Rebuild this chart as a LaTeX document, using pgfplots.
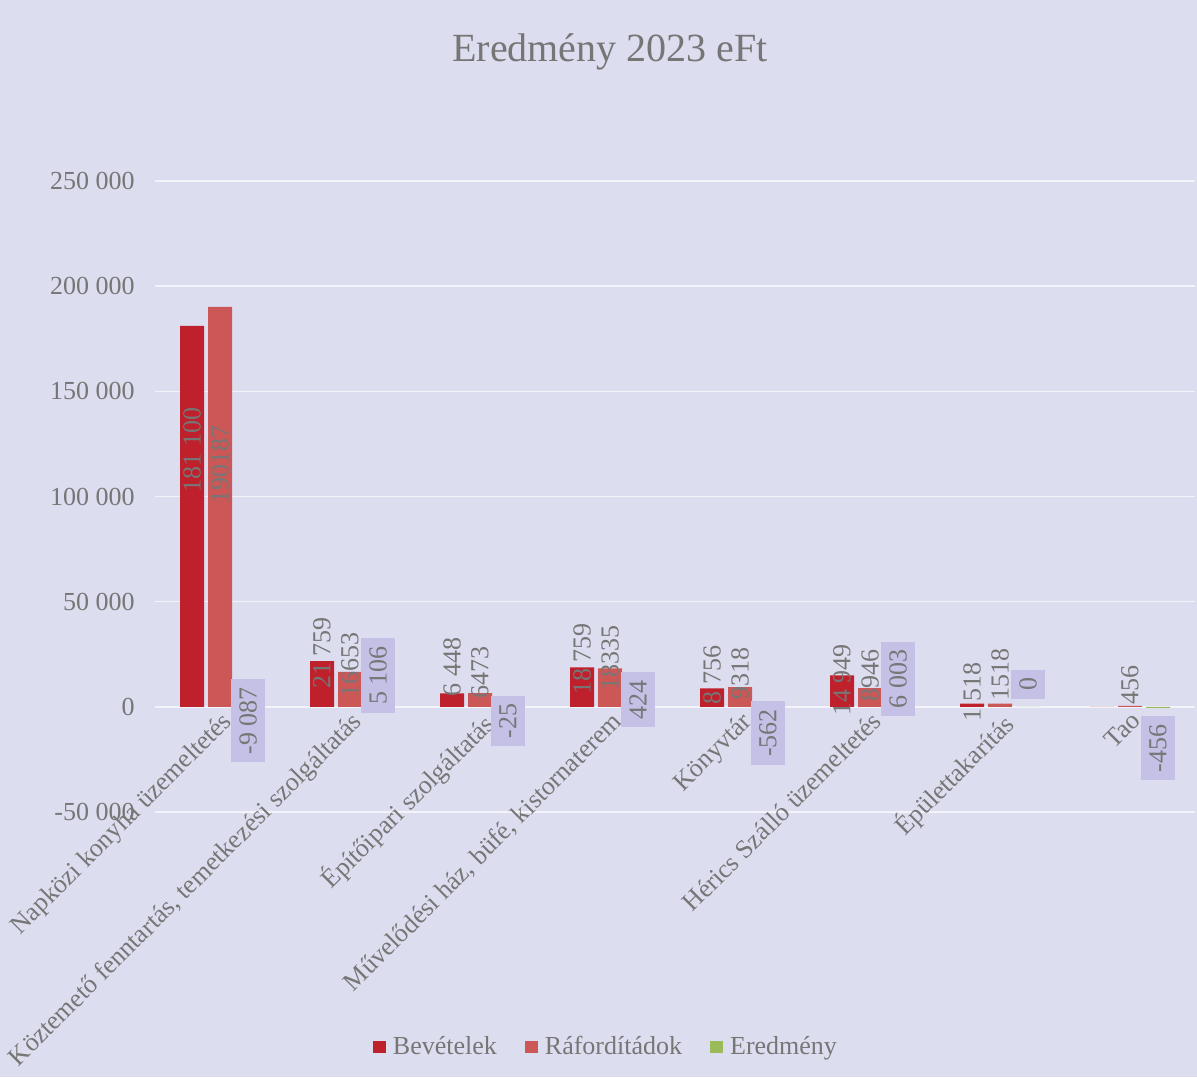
\documentclass[border=0pt]{standalone}
\usepackage{pgfplots}
\pgfplotsset{compat=1.18}
\usepackage{fontspec}
\setmainfont{Liberation Serif}

\definecolor{bgcol}{RGB}{221,221,240}
\definecolor{gridcol}{RGB}{243,243,250}
\definecolor{txt}{RGB}{118,118,118}
\definecolor{bev}{RGB}{190,32,44}
\definecolor{raf}{RGB}{203,88,86}
\definecolor{ered}{RGB}{155,187,89}
\definecolor{lblbox}{RGB}{196,192,230}
\newcommand\lbl{\fontsize{13}{15}\selectfont}

\begin{document}
\begin{tikzpicture}
\useasboundingbox (0,0) rectangle (598.5pt,538.5pt);
\fill[bgcol] (0,0) rectangle (598.5pt,538.5pt);
\node[text=txt, font=\fontsize{20}{24}\selectfont] at (305pt,512.5pt) {Eredmény 2023 eFt};
\begin{axis}[
  at={(77.5pt,132.5pt)}, anchor=south west,
  scale only axis, width=520pt, height=315.5pt,
  ybar, bar width=12pt,
  xmin=-0.5, xmax=7.5, ymin=-50000, ymax=250000,
  ytick={-50000,0,50000,100000,150000,200000,250000},
  yticklabels={-50 000,0,50 000,100 000,150 000,200 000,250 000},
  scaled y ticks=false,
  axis x line=middle, axis y line=left,
  hide obscured x ticks=false, hide obscured y ticks=false,
  axis line style={draw=none},
  major tick length=0pt,
  ymajorgrids, grid style={gridcol, line width=0.8pt},
  xtick={0,...,7},
  xticklabels={Napközi konyha üzemeltetés,
    {Köztemető fenntartás, temetkezési szolgáltatás},
    Építőipari szolgáltatás,
    {Művelődési ház, büfé, kistornaterem},
    Könyvtár, Hérics Szálló üzemeltetés, Épülettakarítás, Tao},
  xticklabel style={rotate=45, anchor=north east, inner sep=1pt,
    font=\fontsize{13}{15}\selectfont, text=txt},
  yticklabel style={font=\lbl, text=txt, inner sep=0pt, xshift=-10pt},
  legend columns=3,
  legend image code/.code={\fill[#1] (0pt,-3.2pt) rectangle (6.4pt,3.2pt); \path (8pt,0pt);},
  legend style={at={(axis description cs:0.4346,-0.3724)}, anchor=center,
    draw=none, fill=none, font=\lbl, text=txt,
    /tikz/every even column/.append style={column sep=12pt}},
]

\addplot[fill=bev, draw=none, bar shift=-14pt]
  coordinates {(0,181100) (1,21759) (2,6448) (3,18759) (4,8756) (5,14949) (6,1518) (7,0)};
\addplot[fill=raf, draw=none, bar shift=0pt]
  coordinates {(0,190187) (1,16653) (2,6473) (3,18335) (4,9318) (5,8946) (6,1518) (7,456)};
\addplot[fill=ered, draw=none, bar shift=14pt]
  coordinates {(0,-9087) (1,5106) (2,-25) (3,424) (4,-562) (5,6003) (6,0) (7,-456)};
\legend{Bevételek, Ráfordítádok, Eredmény}

% data labels, placed where the chart shows them
\addplot[forget plot, draw=none, fill=none, bar shift=-14pt,
  point meta=explicit symbolic, nodes near coords,
  nodes near coords style={rotate=90, anchor=center, font=\lbl, text=txt}]
  coordinates {(0,122000)[181 100] (1,25700)[21 759] (2,19000)[6 448]
    (3,22800)[18 759] (4,15200)[8 756] (5,12800)[14 949] (6,7100)[1 518]};
\addplot[forget plot, draw=none, fill=none, bar shift=0pt,
  point meta=explicit symbolic, nodes near coords,
  nodes near coords style={rotate=90, anchor=center, font=\lbl, text=txt}]
  coordinates {(0,115000)[190187] (1,20000)[16653] (2,16200)[6473]
    (3,23300)[18335] (4,15700)[9318] (5,14700)[8946] (6,15200)[1518] (7,10500)[456]};
\addplot[forget plot, draw=none, fill=none, bar shift=14pt,
  point meta=explicit symbolic, nodes near coords,
  nodes near coords style={rotate=90, anchor=center, font=\lbl, text=txt,
    fill=lblbox, inner sep=4pt}]
  coordinates {(0,-6650)[-9 087] (1,15000)[5 106] (2,-6650)[-25] (3,3300)[424]
    (4,-12400)[-562] (5,13300)[6 003] (6,10700)[0] (7,-19700)[-456]};
\end{axis}
\end{tikzpicture}
\end{document}
